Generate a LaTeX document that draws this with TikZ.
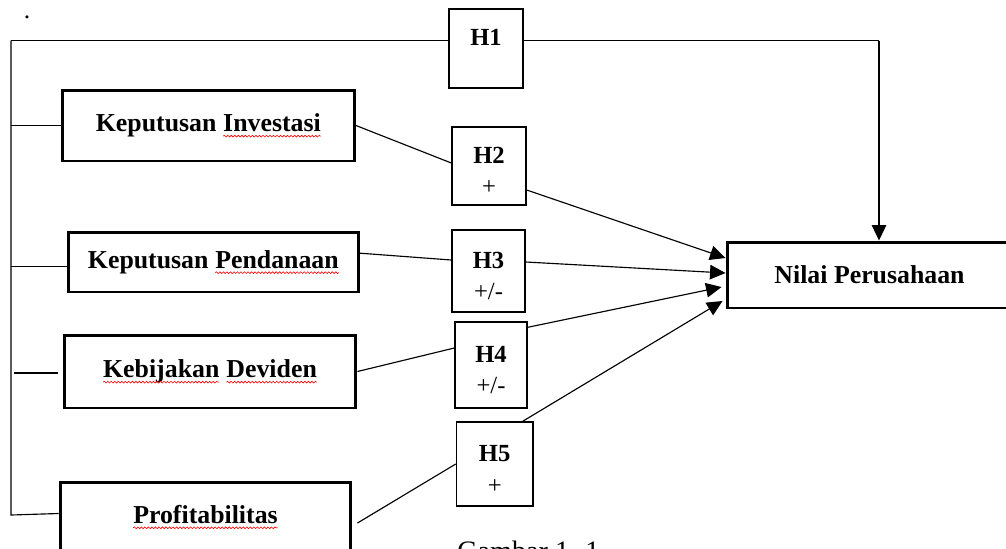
\documentclass[tikz,border=0pt]{standalone}
\usepackage{fontspec}
\setmainfont{Liberation Serif}
\usetikzlibrary{arrows.meta,calc,decorations.pathmorphing}

\newcommand\salah[1]{\tikz[baseline=(w.base)]{\node[draw=none, inner sep=0pt, outer sep=0pt, minimum width=0pt, minimum height=0pt] (w) {#1};
    \draw[red, line width=0.35pt, decorate, decoration={snake, amplitude=0.5pt, segment length=2pt}]
      ([yshift=-2.6pt]w.base west) -- ([yshift=-2.6pt]w.base east);}}

\begin{document}
\begin{tikzpicture}[x=0.02cm, y=-0.02cm,
    var/.style={draw, line width=1.7pt, minimum width=5.84cm, font=\bfseries\fontsize{14.7}{17.5}\selectfont},
    hip/.style={draw, line width=0.8pt, minimum width=1.48cm, align=center, font=\fontsize{14}{18}\selectfont},
    >={Triangle[length=0.31cm, width=0.29cm]}, line width=0.65pt]

    \clip (0,0) rectangle (1006,548);

    \node[anchor=base, font=\fontsize{14.5}{17.5}\selectfont] (titik) at (27,18) {.};

    % variabel
    \node[var, minimum height=1.42cm] (ki) at (208.5,125.5) {Keputusan \salah{Investasi}};
    \node[var, minimum width=5.82cm, minimum height=1.2cm] (kp) at (213.5,262) {Keputusan \salah{Pendanaan}};
    \node[var, minimum height=1.46cm] (kd) at (210,371.5) {\salah{Kebijakan} \salah{Deviden}};
    \node[var, minimum width=5.82cm, minimum height=1.4cm] (prof) at (205.5,517) {\salah{Profitabilitas}};
    \node[var, minimum width=5.7cm, minimum height=1.32cm] (nilai) at (869.5,275) {Nilai Perusahaan};

    % hipotesis
    \node[hip, minimum height=1.58cm] (h1) at (486,48.5) {\rule{0pt}{15pt}\textbf{H1}\\\mbox{}};
    \node[hip, minimum height=1.56cm] (h2) at (489,166) {\rule{0pt}{15pt}\textbf{H2}\\+};
    \node[hip, minimum width=1.46cm, minimum height=1.64cm] (h3) at (488.5,271) {\rule{0pt}{15pt}\textbf{H3}\\+/-};
    \node[hip, minimum width=1.44cm, minimum height=1.72cm] (h4) at (491,365) {\rule{0pt}{15pt}\textbf{H4}\\+/-};
    \node[hip, minimum width=1.53cm, minimum height=1.68cm] (h5) at (494.7,464) {\rule{0pt}{15pt}\textbf{H5}\\+};

    \node[anchor=base west, font=\fontsize{16}{19}\selectfont] (gbr) at (451,560) {Gambar 1. 1};

    % garis kiri
    \coordinate (atas) at (11,40.7);
    \coordinate (bawah) at (11,515);
    \coordinate (belok) at (879,40.7);
    \draw (atas) -- (bawah) -- ($(prof.west)+(0,-3.5)$);
    \draw (atas) -- (atas -| h1.west);
    \draw (atas -| h1.east) -- (belok);
    \draw[->] (belok) -- (belok |- nilai.north);
    \draw (ki.west -| atas) -- (ki.west);
    \draw ($(kp.west -| atas)+(0,4.5)$) -- ($(kp.west)+(0,4.5)$);
    \draw ($(kd.west -| atas)+(3,1.5)$) -- ($(kd.west)+(-5,1.5)$);

    % ke hipotesis
    \draw (ki.east) -- ($(h2.west)+(0,-3)$);
    \draw ($(kp.east)+(-3,-9)$) -- ($(h3.west)+(0,-11)$);
    \draw (kd.east) -- ($(h4.west)+(0,-17)$);
    \draw ($(prof.east)+(5,6)$) -- (h5.west);

    % ke nilai perusahaan
    \draw[->] ($(h2.east)+(0,24)$) -- ($(nilai.west)+(0,-17)$);
    \draw[->] ($(h3.east)+(0,-9)$) -- ($(nilai.west)+(0,-2)$);
    \draw[->] ($(h4.north east)+(0,6)$) -- ($(nilai.west)+(-4,12)$);
    \draw[->] ($(h5.north east)+(-11,0)$) -- ($(nilai.west)+(-3,26)$);

\end{tikzpicture}
\end{document}
